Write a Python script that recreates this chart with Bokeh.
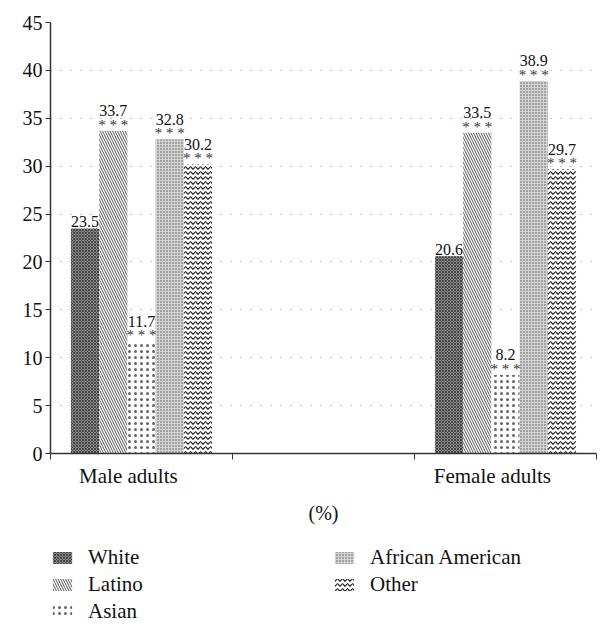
from bokeh.plotting import figure
from bokeh.layouts import column
from bokeh.models import ColumnDataSource, FixedTicker, Legend, LegendItem, Range1d, LinearAxis
from bokeh.core.properties import value
from bokeh.embed import file_html
from bokeh.resources import INLINE

# ---- data ----
groups = ["Male adults", "Female adults"]
group_slots = [0, 2]          # category slot index (middle slot is empty)
ethnicities = ["White", "Latino", "Asian", "African American", "Other"]
male_values = [23.5, 33.7, 11.7, 32.8, 30.2]
female_values = [20.6, 33.5, 8.2, 38.9, 29.7]
male_stars = [False, True, True, True, True]
female_stars = [False, True, True, True, True]
y_ticks = [0, 5, 10, 15, 20, 25, 30, 35, 40, 45]

# ---- styles ----
FONT = "'Liberation Serif', serif"
styles = {
    "White": dict(fill_color="#8c8c8c", hatch_pattern="x", hatch_color="#444444", hatch_scale=3, hatch_weight=1),
    "Latino": dict(fill_color="#ffffff", hatch_pattern="\\", hatch_color="#555555", hatch_scale=5, hatch_weight=1),
    "Asian": dict(fill_color="#ffffff", hatch_pattern=".", hatch_color="#666666", hatch_scale=6, hatch_weight=0.5),
    "African American": dict(fill_color="#d4d4d4", hatch_pattern=".", hatch_color="#555555", hatch_scale=3, hatch_weight=1),
    "Other": dict(fill_color="#ffffff", hatch_pattern="v", hatch_color="#222222", hatch_scale=5, hatch_weight=1.2),
}
bar_w = 0.155
label_shift = -0.072

p = figure(frame_width=546, frame_height=431, output_backend="svg", toolbar_location=None,
           x_range=Range1d(0, 3), y_range=Range1d(0, 45),
           min_border_left=50, min_border_right=9, min_border_top=22, min_border_bottom=77,
           x_axis_location=None, y_axis_location=None)
p.outline_line_color = None
p.xgrid.grid_line_color = None
p.ygrid.grid_line_color = "#8a8a8a"
p.ygrid.grid_line_dash = "1 9"
p.ygrid.grid_line_width = 1.2
p.ygrid.ticker = FixedTicker(ticks=y_ticks[1:])

yaxis = LinearAxis(ticker=FixedTicker(ticks=y_ticks))
yaxis.major_label_text_font = FONT
yaxis.major_label_text_font_size = "20px"
yaxis.major_label_text_color = "#111111"
yaxis.axis_line_color = "#333333"
yaxis.axis_line_width = 1.5
yaxis.major_tick_line_color = "#333333"
yaxis.major_tick_out = 5
yaxis.major_tick_in = 0
yaxis.minor_tick_line_color = None
yaxis.major_label_standoff = 3
p.add_layout(yaxis, "left")

label_pos = [s + 0.5 + label_shift for s in group_slots]
xaxis = LinearAxis(ticker=FixedTicker(ticks=label_pos, minor_ticks=[0, 1, 2, 3]))
xaxis.major_label_overrides = {pos: g for pos, g in zip(label_pos, groups)}
xaxis.major_label_text_font = FONT
xaxis.major_label_text_font_size = "21px"
xaxis.major_label_text_color = "#111111"
xaxis.major_tick_in = 0
xaxis.major_tick_out = 0
xaxis.minor_tick_in = 0
xaxis.minor_tick_out = 6
xaxis.minor_tick_line_color = "#333333"
xaxis.axis_line_color = "#333333"
xaxis.axis_line_width = 1.5
xaxis.major_label_standoff = 4
xaxis.axis_label = "(%)"
xaxis.axis_label_text_font = FONT
xaxis.axis_label_text_font_size = "20px"
xaxis.axis_label_text_font_style = "normal"
xaxis.axis_label_text_color = "#111111"
xaxis.axis_label_standoff = 11
p.add_layout(xaxis, "below")

lab_x, lab_y, lab_t, lab_off = [], [], [], []
st_x, st_y = [], []
for j, eth in enumerate(ethnicities):
    vals = [male_values[j], female_values[j]]
    stars = [male_stars[j], female_stars[j]]
    xs = [s + 0.5 + (j - 2) * bar_w for s in group_slots]
    src = ColumnDataSource(dict(x=xs, top=vals))
    p.vbar(x="x", top="top", width=bar_w, source=src, line_color=None, **styles[eth])
    for x, v, s in zip(xs, vals, stars):
        lab_x.append(x); lab_y.append(v); lab_t.append(f"{v:.1f}")
        lab_off.append(-20 if s else -7)
        if s:
            st_x.append(x); st_y.append(v)

star_src = ColumnDataSource(dict(x=st_x, y=st_y, t=["* * *"] * len(st_x)))
p.text(x="x", y="y", text="t", source=star_src, text_font=value(FONT), text_font_size="15px",
       text_align="center", text_baseline="alphabetic", y_offset=-6, text_color="#333333")

lab_src = ColumnDataSource(dict(x=lab_x, y=lab_y, t=lab_t, off=lab_off))
p.text(x="x", y="y", text="t", source=lab_src, text_font=value(FONT), text_font_size="16px",
       text_align="center", text_baseline="alphabetic", y_offset="off", text_color="#111111")

# ---- legend (separate strip below the chart) ----
lg = figure(width=605, height=100, output_backend="svg", toolbar_location=None,
            x_range=Range1d(0, 1), y_range=Range1d(0, 1),
            min_border=0, x_axis_location=None, y_axis_location=None)
lg.outline_line_color = None
lg.grid.grid_line_color = None
items = []
for eth in ethnicities:
    r = lg.vbar(x=[-10], top=[-10], width=0.1, line_color=None, **styles[eth])
    items.append(LegendItem(label=eth, renderers=[r]))

legend = Legend(items=items, nrows=3, orientation="vertical", location=(0, 6))
legend.label_text_font = FONT
legend.label_text_font_size = "21px"
legend.label_text_color = "#111111"
legend.glyph_width = 24
legend.glyph_height = 15
legend.label_standoff = 14
legend.label_width = 242
legend.label_height = 20
legend.spacing = 2
legend.padding = 0
legend.margin = 0
legend.border_line_color = None
legend.background_fill_alpha = 0
lg.add_layout(legend, "center")

layout = column(p, lg, spacing=0)
open("out.html", "w").write(file_html(layout, INLINE))
